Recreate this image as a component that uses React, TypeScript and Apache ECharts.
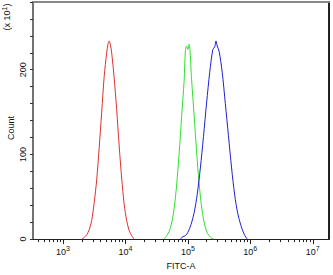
import React, { useEffect, useRef } from "react";
import * as echarts from "echarts";

// x values are log10(FITC-A)
const redLog = [3.30, 3.34, 3.38, 3.42, 3.46, 3.50, 3.54, 3.58, 3.62, 3.66, 3.70, 3.72, 3.74, 3.76, 3.78, 3.82, 3.86, 3.90, 3.94, 3.98, 4.02, 4.06, 4.10, 4.14];
const redCount = [0, 2, 5, 11, 22, 43, 70, 108, 150, 192, 220, 230, 234, 229, 220, 190, 153, 110, 72, 41, 22, 10, 4, 0];

const greenLog = [4.62, 4.66, 4.70, 4.74, 4.78, 4.82, 4.86, 4.90, 4.94, 4.96, 4.98, 5.00, 5.02, 5.06, 5.10, 5.14, 5.18, 5.22, 5.26, 5.30, 5.34, 5.38, 5.42];
const greenCount = [0, 4, 9, 19, 36, 64, 101, 145, 187, 222, 228, 224, 230, 188, 146, 103, 66, 38, 20, 9, 4, 1, 0];

const blueLog = [4.88, 4.92, 4.96, 5.00, 5.05, 5.10, 5.15, 5.20, 5.25, 5.30, 5.35, 5.40, 5.43, 5.45, 5.47, 5.50, 5.55, 5.60, 5.65, 5.70, 5.75, 5.80, 5.85, 5.90, 5.95];
const blueCount = [0, 3, 4, 8, 17, 31, 53, 84, 121, 161, 197, 224, 227, 234, 228, 222, 197, 160, 122, 84, 52, 30, 16, 6, 0];

const xMajorTicks = [3, 4, 5, 6, 7];
const xTickLabels = ["3", "4", "5", "6", "7"];
const yLabels = [0, 100, 200];

const X_MIN = 2.52;
const X_MAX = 7.26;

function minorLogTicks(): number[] {
  const out: number[] = [];
  for (let d = 2; d <= 7; d++) {
    for (let k = 2; k <= 9; k++) {
      const v = d + Math.log10(k);
      if (v >= X_MIN && v <= X_MAX) out.push(v);
    }
  }
  return out;
}

function pairs(xs: number[], ys: number[]) {
  return xs.map((x, i) => [x, ys[i]]);
}

export default function App() {
  const ref = useRef<HTMLDivElement>(null);
  useEffect(() => {
    document.body.style.margin = "0";
    const chart = echarts.init(ref.current!, null, { renderer: "svg" });
    const font = "Liberation Sans, Arial, sans-serif";
    const yTicks: number[] = [];
    for (let v = 0; v <= 280; v += 20) yTicks.push(v);
    const lineSeries = (data: number[][], color: string) => ({
      type: "line",
      data,
      showSymbol: false,
      symbol: "none",
      smooth: 0.3,
      lineStyle: { color, width: 1 },
      xAxisIndex: 0,
      yAxisIndex: 0,
    });
    chart.setOption({
      animation: false,
      grid: { left: 33, top: 2, right: 4, bottom: 31, show: false },
      xAxis: [
        {
          type: "value",
          min: X_MIN,
          max: X_MAX,
          splitLine: { show: false },
          axisLine: { show: true, lineStyle: { color: "#222", width: 1 } },
          axisTick: {
            show: true,
            customValues: xMajorTicks,
            length: 5,
            lineStyle: { color: "#222" },
          },
          axisLabel: {
            customValues: xMajorTicks,
            formatter: (v: number) => {
              const i = xMajorTicks.indexOf(Math.round(v));
              return "10{sup|" + xTickLabels[i] + "}";
            },
            color: "#111",
            fontFamily: font,
            fontSize: 9,
            margin: 6,
            rich: {
              sup: { fontSize: 7, verticalAlign: "top", padding: [0, 0, 6, 0], fontFamily: font, color: "#111" },
            },
          },
          name: "FITC-A",
          nameLocation: "middle",
          nameGap: 21,
          nameTextStyle: { fontFamily: font, fontSize: 9, color: "#111" },
        },
        {
          type: "value",
          position: "bottom",
          min: X_MIN,
          max: X_MAX,
          splitLine: { show: false },
          axisLine: { show: false },
          axisLabel: { show: false },
          axisTick: {
            show: true,
            customValues: minorLogTicks(),
            length: 3,
            lineStyle: { color: "#222" },
          },
        },
        {
          type: "value",
          position: "top",
          min: X_MIN,
          max: X_MAX,
          splitLine: { show: false },
          axisLine: { show: true, lineStyle: { color: "#888", width: 2 } },
          axisLabel: { show: false },
          axisTick: { show: false },
        },
      ],
      yAxis: [
        {
          type: "value",
          min: 0,
          max: 280,
          splitLine: { show: false },
          axisLine: { show: true, lineStyle: { color: "#444", width: 1.5 } },
          axisTick: { show: true, customValues: yTicks, length: 3, lineStyle: { color: "#333" } },
          axisLabel: {
            customValues: yLabels,
            rotate: 90,
            color: "#111",
            fontFamily: font,
            fontSize: 9,
            margin: 6,
          },
        },
        {
          type: "value",
          position: "right",
          min: 0,
          max: 280,
          splitLine: { show: false },
          axisLine: { show: true, lineStyle: { color: "#222", width: 2 } },
          axisLabel: { show: false },
          axisTick: { show: false },
        },
      ],
      graphic: [
        {
          type: "text",
          x: 11,
          y: 128,
          rotation: Math.PI / 2,
          style: {
            text: "Count",
            fontFamily: font,
            fontSize: 9,
            fill: "#111",
            align: "center",
            verticalAlign: "middle",
          },
        },
        {
          type: "text",
          x: 7,
          y: 17,
          rotation: Math.PI / 2,
          style: {
            text: "(x 10{sup|1})",
            fontFamily: font,
            fontSize: 9,
            fill: "#111",
            align: "center",
            verticalAlign: "middle",
            rich: {
              sup: { fontSize: 7, verticalAlign: "top", padding: [0, 0, 6, 0], fontFamily: font, fill: "#111" },
            },
          },
        },
      ],
      series: [
        lineSeries(pairs(redLog, redCount), "#e03030"),
        lineSeries(pairs(greenLog, greenCount), "#30e030"),
        lineSeries(pairs(blueLog, blueCount), "#2020d0"),
      ],
    });
    return () => chart.dispose();
  }, []);
  return <div ref={ref} style={{ position: "absolute", left: 0, top: 0, width: 333, height: 275 }} />;
}
